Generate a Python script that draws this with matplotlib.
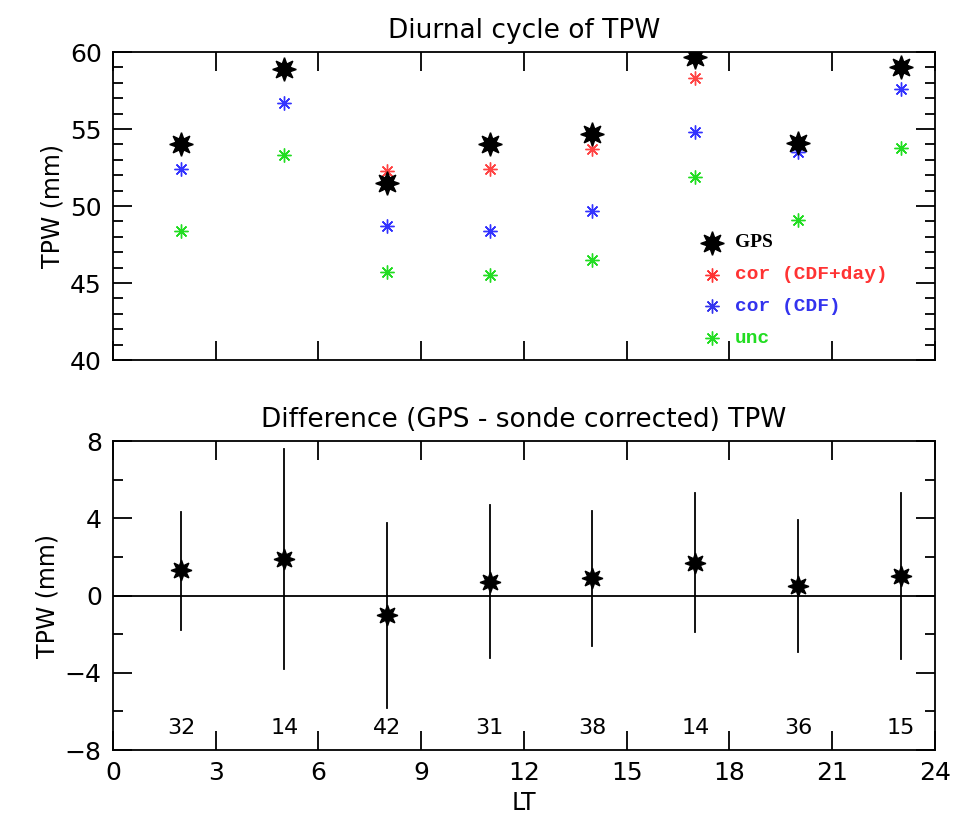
import numpy as np
import matplotlib.pyplot as plt
from matplotlib.ticker import MultipleLocator

# local time bins
lt = [2, 5, 8, 11, 14, 17, 20, 23]

# top panel: TPW (mm)
gps = [54.0, 58.9, 51.5, 54.0, 54.7, 59.7, 54.1, 59.0]
cor_day = [54.0, 58.9, 52.3, 52.4, 53.7, 58.3, 54.1, 59.0]
cor_cdf = [52.4, 56.7, 48.7, 48.4, 49.7, 54.8, 53.5, 57.6]
unc = [48.4, 53.3, 45.7, 45.5, 46.5, 51.9, 49.1, 53.8]

# bottom panel: difference and spread
diff = [1.3, 1.9, -1.0, 0.7, 0.9, 1.7, 0.5, 1.0]
err_hi = [4.3, 7.6, 3.75, 4.7, 4.4, 5.3, 3.9, 5.3]
err_lo = [-1.8, -3.8, -5.8, -3.25, -2.6, -1.9, -2.9, -3.3]
counts = [32, 14, 42, 31, 38, 14, 36, 15]

plt.rcParams['font.family'] = ['DejaVu Sans']

fig = plt.figure(figsize=(9.57, 8.34), dpi=100)
ax1 = fig.add_axes([0.118, 0.5683, 0.859, 0.3693])
ax2 = fig.add_axes([0.118, 0.1007, 0.859, 0.3705])

star = (8, 1, 0)
ast = (8, 2, 0)

ax1.plot(lt, unc, ls='none', marker=ast, ms=10, mew=1.0, color='#22dd22')
ax1.plot(lt, cor_cdf, ls='none', marker=ast, ms=10, mew=1.0, color='#3333ff')
ax1.plot(lt, cor_day, ls='none', marker=ast, ms=10, mew=1.0, color='#ff4444')
ax1.plot(lt, gps, ls='none', marker=star, ms=17, color='black')

ax1.set_xlim(0, 24)
ax1.set_ylim(40, 60)
ax1.yaxis.set_major_locator(MultipleLocator(5))
ax1.yaxis.set_minor_locator(MultipleLocator(1))
ax1.xaxis.set_major_locator(MultipleLocator(3))
ax1.set_xticklabels([])
ax1.set_ylabel('TPW (mm)', fontsize=17)
ax1.set_title('Diurnal cycle of TPW', fontsize=19, pad=10)

# legend drawn by hand
leg = [('GPS', 'black', star, 17, 'Liberation Serif'),
       ('cor (CDF+day)', '#ff3333', ast, 10, 'Liberation Mono'),
       ('cor (CDF)', '#3333ee', ast, 10, 'Liberation Mono'),
       ('unc', '#22dd22', ast, 10, 'Liberation Mono')]
for i, (lab, c, m, s, fam) in enumerate(leg):
    yy = 0.38 - i * 0.103
    ax1.plot([0.729], [yy], transform=ax1.transAxes, marker=m, ms=s,
             mew=1.0, color=c, ls='none', clip_on=False)
    ax1.text(0.757, yy, lab, transform=ax1.transAxes, color=c,
             fontsize=14, fontweight='bold', family=fam, va='center')

ax2.axhline(0, color='black', lw=1.3)
for x, d, hi, lo in zip(lt, diff, err_hi, err_lo):
    ax2.plot([x, x], [lo, hi], color='black', lw=1.3)
ax2.plot(lt, diff, ls='none', marker=star, ms=15, color='black')
for x, n in zip(lt, counts):
    ax2.text(x, -6.84, str(n), ha='center', va='center', fontsize=16)

ax2.set_xlim(0, 24)
ax2.set_ylim(-8, 8)
ax2.yaxis.set_major_locator(MultipleLocator(4))
ax2.yaxis.set_minor_locator(MultipleLocator(2))
ax2.xaxis.set_major_locator(MultipleLocator(3))
ax2.set_ylabel('TPW (mm)', fontsize=17)
ax2.set_xlabel('LT', fontsize=17, labelpad=4)
ax2.set_title('Difference (GPS - sonde corrected) TPW', fontsize=19, pad=10)

for ax in (ax1, ax2):
    ax.tick_params(which='both', direction='in', top=True, right=True,
                   labelsize=18, width=1.3)
    ax.tick_params(which='major', length=14, pad=8)
    ax.tick_params(which='minor', length=7)
    for sp in ax.spines.values():
        sp.set_linewidth(1.3)

fig.savefig('out.png', dpi=100)
